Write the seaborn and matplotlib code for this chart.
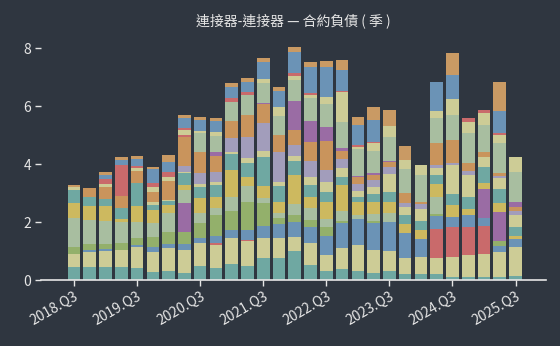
import numpy as np
import pandas as pd
import matplotlib
matplotlib.use("Agg")
import matplotlib.pyplot as plt
import seaborn as sns

quarters = ["2018.Q3", "2018.Q4", "2019.Q1", "2019.Q2", "2019.Q3", "2019.Q4",
            "2020.Q1", "2020.Q2", "2020.Q3", "2020.Q4", "2021.Q1", "2021.Q2",
            "2021.Q3", "2021.Q4", "2022.Q1", "2022.Q2", "2022.Q3", "2022.Q4",
            "2023.Q1", "2023.Q2", "2023.Q3", "2023.Q4", "2024.Q1", "2024.Q2",
            "2024.Q3", "2024.Q4", "2025.Q1", "2025.Q2", "2025.Q3"]
tick_labels = ["2018.Q3", "2019.Q3", "2020.Q3", "2021.Q3", "2022.Q3", "2023.Q3", "2024.Q3", "2025.Q3"]

# series, bottom to top
teal_b   = [.46,.46,.46,.46,.40,.29,.32,.25,.48,.40,.55,.48,.75,.75,.99,.53,.32,.38,.30,.24,.32,.21,.21,.21,.11,.09,.09,.11,.14]
pale_b   = [.44,.52,.54,.57,.75,.69,.77,.78,.81,.80,.91,.88,.71,.71,.50,.73,.55,.72,.92,.79,.67,.54,.57,.54,.69,.77,.81,.87,1.01]
red_b    = [0,0,0,0,0,0,0,0,0,.08,0,.02,0,0,0,0,0,0,0,0,0,0,0,1.00,1.02,.96,.97,0,0]
blue_m   = [0,.05,.07,0,.05,.15,.15,.21,.15,.24,.26,.34,.40,.47,.50,.56,.66,.85,.88,.92,1.00,.88,.63,.46,.34,.42,.26,.19,.26]
green    = [.25,.21,.17,.23,.24,.37,.43,.40,.51,.72,.65,.98,.81,.20,.26,.26,.29,.10,0,.10,0,0,0,.07,0,0,0,.17,0]
purple_m = [0,0,0,0,0,0,0,1.00,0,0,0,0,0,0,0,0,0,0,0,0,0,0,0,0,0,0,1.00,.99,0]
sage_m   = [.99,.83,.81,.74,.56,.45,.63,.46,.37,.23,.50,.54,.17,.17,.37,.39,.28,.34,.14,.23,.31,0,0,.59,0,0,0,0,0]
yellow   = [.51,.48,.50,.10,.55,.46,.29,.18,.50,.40,.92,.32,.40,.40,1.01,.38,.60,.90,.44,.40,.40,.30,.31,.44,.43,.20,.20,.31,.11]
teal_m   = [.45,.30,.25,.40,.80,.18,.12,.40,.40,.41,.55,.49,.99,.54,.48,.44,.35,.25,.17,.27,.32,.31,.33,.31,.38,.43,.56,.49,.32]
pale_m   = [.10,0,0,0,0,.11,.05,.06,.08,.11,.08,.15,.22,.15,.15,.25,.32,.31,.21,.27,.64,.28,.41,.23,1.00,.75,.34,.38,.40]
lavender = [0,0,0,0,0,0,0,.19,.38,.35,.46,.72,.98,1.04,.41,.57,.42,.32,.25,.23,.25,.15,.16,.12,.08,.15,0,.08,.14]
orange_m = [0,.31,.40,.40,.40,.35,.64,1.01,.75,.54,.60,.77,.63,.57,.50,.64,1.01,.29,.23,.18,.15,.34,.08,.74,.78,.28,.20,.09,.15]
red_m    = [0,0,0,1.05,0,0,0,.06,0,0,0,0,0,0,0,0,0,0,0,0,0,0,0,0,0,0,0,0,0]
purple_u = [0,0,0,0,0,0,0,0,0,.15,0,0,.06,0,1.01,.74,.49,.09,.06,.06,.05,0,0,0,0,0,0,0,.17]
sage_u   = [0,0,0,0,0,0,0,0,.64,.54,.67,.69,.66,.67,.72,.79,.78,.91,.92,.77,.81,.81,.92,.86,.86,1.03,.91,1.03,1.04]
pale_u   = [0,0,.10,0,.12,.15,.16,.17,.08,.15,0,0,.14,.31,.12,.11,.23,1.01,.08,.25,.40,.32,.35,.26,.54,.38,.41,.29,.50]
red_u    = [0,0,.17,0,.06,.16,.18,.06,0,0,.11,.09,0,0,.12,.06,0,.06,.07,.06,0,0,0,0,0,.11,.11,.06,0]
blue_u   = [0,0,.15,.18,.23,.46,.34,.34,.37,.35,.41,.35,.61,.55,.73,.91,1.03,.71,.69,.76,0,0,0,1.00,.84,0,0,.78,0]
cap      = [.08,0,.11,.12,.11,.08,.22,.12,.11,.13,.13,.13,.11,.11,.16,.15,.21,.35,.27,.42,.55,.48,0,0,.76,0,0,.99,0]

series = {
    "teal_b": teal_b, "pale_b": pale_b, "red_b": red_b, "blue_m": blue_m,
    "green": green, "purple_m": purple_m, "sage_m": sage_m, "yellow": yellow,
    "teal_m": teal_m, "pale_m": pale_m, "lavender": lavender, "orange_m": orange_m,
    "red_m": red_m, "purple_u": purple_u, "sage_u": sage_u, "pale_u": pale_u,
    "red_u": red_u, "blue_u": blue_u, "cap": cap,
}

TEAL = "#6fa8a2"; PALE = "#cdcc96"; RED = "#c96a6b"; BLUE = "#6b93b6"
GREEN = "#93b06b"; PURPLE = "#9a6ca4"; SAGE = "#a8bea0"; YELLOW = "#cdb95f"
LAV = "#a29dbb"; ORANGE = "#c9945c"; CAPC = "#c99a64"
palette = {
    "teal_b": TEAL, "pale_b": PALE, "red_b": RED, "blue_m": BLUE, "green": GREEN,
    "purple_m": PURPLE, "sage_m": SAGE, "yellow": YELLOW, "teal_m": TEAL,
    "pale_m": PALE, "lavender": LAV, "orange_m": ORANGE, "red_m": RED,
    "purple_u": PURPLE, "sage_u": SAGE, "pale_u": PALE, "red_u": RED,
    "blue_u": BLUE, "cap": CAPC,
}

rows = []
for name, vals in series.items():
    for i, v in enumerate(vals):
        rows.append({"pos": i, "series": name, "value": v})
df = pd.DataFrame(rows)

BG = "#2f3640"
FG = "#e6e6e6"
sns.set_theme(style="dark")
plt.rcParams["font.family"] = ["Noto Sans CJK TC", "DejaVu Sans"]

fig = plt.figure(figsize=(5.6, 3.46), dpi=100, facecolor=BG)
ax = fig.add_axes([41/560, 1 - 280/346, (546 - 41)/560, (280 - 39.3)/346])
ax.set_facecolor(BG)

order = list(series.keys())
sns.histplot(data=df, x="pos", weights="value", hue="series",
             hue_order=order[::-1], palette=palette, multiple="stack",
             discrete=True, shrink=0.8, alpha=1, linewidth=0,
             legend=False, ax=ax)

ax.set_xlim(-2.09, 29.93)
ax.set_ylim(0, 8.3)
ax.set_xticks([quarters.index(t) for t in tick_labels])
ax.set_xticklabels(tick_labels, rotation=30, ha="right", rotation_mode="anchor",
                   color=FG, fontsize=10)
ax.set_yticks([0, 2, 4, 6, 8])
ax.set_yticklabels(["0", "2", "4", "6", "8"], color=FG, fontsize=10)
ax.tick_params(axis="x", length=4, width=1, color=FG, pad=3, bottom=True)
ax.tick_params(axis="y", length=4, width=1, color=FG, pad=3, left=True)
ax.set_xlabel("")
ax.set_ylabel("")
ax.grid(False)
for s in ["top", "right", "left"]:
    ax.spines[s].set_visible(False)
ax.spines["bottom"].set_color(FG)
ax.spines["bottom"].set_linewidth(1.2)

fig.text(293.5/560, 1 - 21/346, "連接器-連接器 — 合約負債 ( 季 )", ha="center", va="center",
         color=FG, fontsize=10)

fig.savefig("out.png", dpi=100, facecolor=BG)
